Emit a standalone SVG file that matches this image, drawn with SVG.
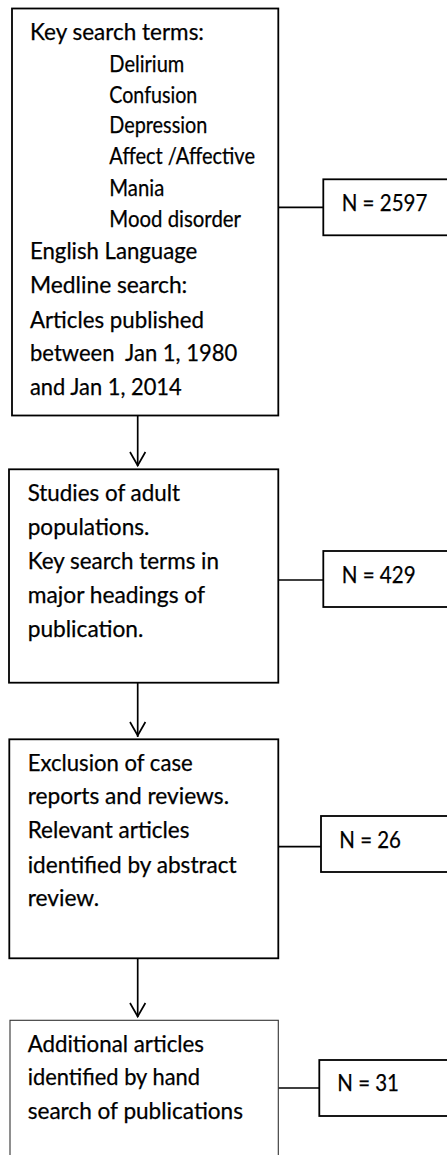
<svg xmlns="http://www.w3.org/2000/svg" width="447" height="1155" viewBox="0 0 447 1155">
<defs>
<style>
.box{fill:#fff;stroke:#000;stroke-width:1.8}
.thin{fill:#fff;stroke:#333;stroke-width:1.1}
.t{font-family:Lato,"Liberation Sans",sans-serif;font-size:22.5px;fill:#000;stroke:#000;stroke-width:0.25;white-space:pre}
.c{stroke:#000;stroke-width:1.7;fill:none}
</style>
</defs>
<g id="connectors">
<line class="c" x1="137.7" y1="416" x2="137.7" y2="466"/>
<path class="c" d="M130,452 L137.7,465.5 L145.4,452"/>
<line class="c" x1="137.7" y1="683" x2="137.7" y2="737"/>
<path class="c" d="M130,722 L137.7,735.5 L145.4,722"/>
<line class="c" x1="137.7" y1="958" x2="137.7" y2="1017"/>
<path class="c" d="M130,1003 L137.7,1016.5 L145.4,1003"/>
<line class="c" x1="278" y1="207.3" x2="323.5" y2="207.3"/>
<line class="c" x1="278" y1="580" x2="323.5" y2="580"/>
<line class="c" x1="278" y1="846.7" x2="324" y2="846.7"/>
<line class="c" x1="277" y1="1088" x2="319.5" y2="1088"/>
</g>
<g id="n1">
<rect class="box" x="12" y="8.5" width="266.3" height="407"/>
<text class="t" x="30" y="40" textLength="174" lengthAdjust="spacingAndGlyphs">Key search terms:</text>
<text class="t" x="109.3" y="71.7" textLength="75" lengthAdjust="spacingAndGlyphs">Delirium</text>
<text class="t" x="109.3" y="102.7" textLength="88" lengthAdjust="spacingAndGlyphs">Confusion</text>
<text class="t" x="109.3" y="133.3" textLength="98" lengthAdjust="spacingAndGlyphs">Depression</text>
<text class="t" x="109.3" y="164.3" textLength="145.7" lengthAdjust="spacingAndGlyphs">Affect /Affective</text>
<text class="t" x="109.3" y="195.7" textLength="55" lengthAdjust="spacingAndGlyphs">Mania</text>
<text class="t" x="109.3" y="226.7" textLength="131.7" lengthAdjust="spacingAndGlyphs">Mood disorder</text>
<text class="t" x="30" y="259" textLength="167.3" lengthAdjust="spacingAndGlyphs">English Language</text>
<text class="t" x="30" y="292.7" textLength="157.3" lengthAdjust="spacingAndGlyphs">Medline search:</text>
<text class="t" x="30" y="327.7" textLength="174" lengthAdjust="spacingAndGlyphs">Articles published</text>
<text class="t" x="30" y="360.7" textLength="207.3" lengthAdjust="spacingAndGlyphs" xml:space="preserve">between  Jan 1, 1980</text>
<text class="t" x="30" y="395" textLength="151.7" lengthAdjust="spacingAndGlyphs">and Jan 1, 2014</text>
</g>
<g id="n1r">
<rect class="box" x="323.3" y="179.3" width="140" height="56"/>
<text class="t" x="341.7" y="210.7" textLength="85.7" lengthAdjust="spacingAndGlyphs">N = 2597</text>
</g>
<g id="n2">
<rect class="box" x="9" y="469.3" width="269.3" height="213.4"/>
<text class="t" x="27.7" y="500.7" textLength="152.3" lengthAdjust="spacingAndGlyphs">Studies of adult</text>
<text class="t" x="27.7" y="535" textLength="121.7" lengthAdjust="spacingAndGlyphs">populations.</text>
<text class="t" x="27.7" y="569.3" textLength="191.3" lengthAdjust="spacingAndGlyphs">Key search terms in</text>
<text class="t" x="27.7" y="602.7" textLength="177.3" lengthAdjust="spacingAndGlyphs">major headings of</text>
<text class="t" x="27.7" y="637.3" textLength="115.7" lengthAdjust="spacingAndGlyphs">publication.</text>
</g>
<g id="n2r">
<rect class="box" x="323.3" y="551" width="140" height="56"/>
<text class="t" x="341.7" y="583.3" textLength="74" lengthAdjust="spacingAndGlyphs">N = 429</text>
</g>
<g id="n3">
<rect class="box" x="9.3" y="739.3" width="269" height="219"/>
<text class="t" x="27.7" y="771" textLength="165" lengthAdjust="spacingAndGlyphs">Exclusion of case</text>
<text class="t" x="27.7" y="804.3" textLength="201.3" lengthAdjust="spacingAndGlyphs">reports and reviews.</text>
<text class="t" x="27.7" y="838.3" textLength="161.7" lengthAdjust="spacingAndGlyphs">Relevant articles</text>
<text class="t" x="27.7" y="872.7" textLength="209" lengthAdjust="spacingAndGlyphs">identified by abstract</text>
<text class="t" x="27.7" y="906" textLength="71.3" lengthAdjust="spacingAndGlyphs">review.</text>
</g>
<g id="n3r">
<rect class="box" x="321" y="816" width="140" height="56"/>
<text class="t" x="339.3" y="847.7" textLength="61.7" lengthAdjust="spacingAndGlyphs">N = 26</text>
</g>
<g id="n4">
<rect class="thin" x="10" y="1020.3" width="268.3" height="160"/>
<text class="t" x="27.7" y="1051.7" textLength="176.3" lengthAdjust="spacingAndGlyphs">Additional articles</text>
<text class="t" x="27.7" y="1085" textLength="172.3" lengthAdjust="spacingAndGlyphs">identified by hand</text>
<text class="t" x="27.7" y="1119" textLength="215.3" lengthAdjust="spacingAndGlyphs">search of publications</text>
</g>
<g id="n4r">
<rect class="box" x="319.3" y="1060" width="140" height="56"/>
<text class="t" x="337.3" y="1091" textLength="61.7" lengthAdjust="spacingAndGlyphs">N = 31</text>
</g>
</svg>
